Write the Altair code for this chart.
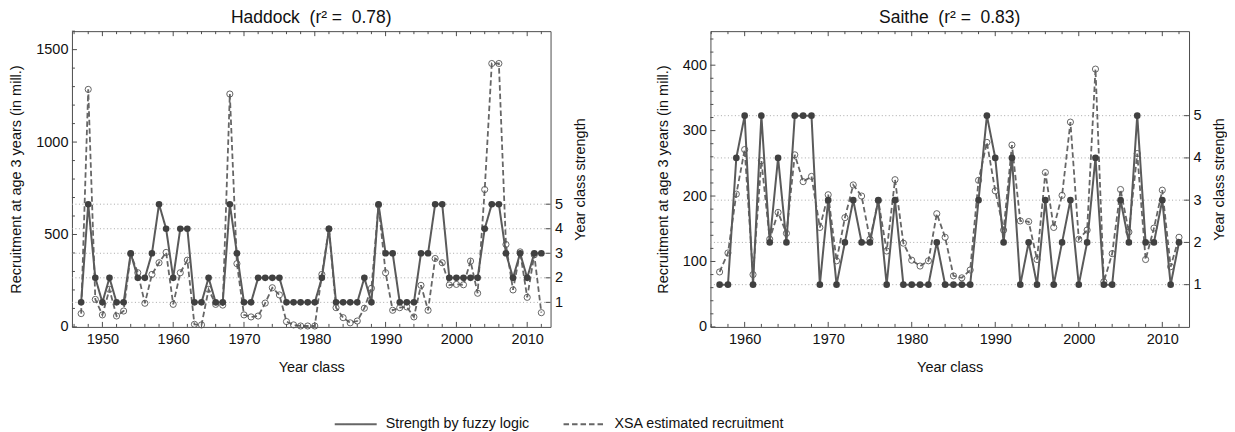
import altair as alt
import pandas as pd

FONT = "Liberation Sans"
AXIS_COLOR = "#4d4d4d"
S_NAME = "Strength by fuzzy logic"
X_NAME = "XSA estimated recruitment"

# ---------------- Haddock ----------------
had_years = list(range(1947, 2013))
had_strength = [1, 5, 2, 1, 2, 1, 1, 3, 2, 2,
                3, 5, 4, 2, 4, 4, 1, 1, 2, 1,
                1, 5, 3, 1, 1, 2, 2, 2, 2, 1,
                1, 1, 1, 1, 2, 4,
                1, 1, 1, 1, 2, 1, 5, 3, 3, 1,
                1, 1, 3, 3, 5, 5, 2, 2, 2, 2,
                2, 4, 5, 5, 3, 2, 3, 2, 3, 3]
had_xsa = [72, 1285, 149, 65, 203, 59, 86, 395, 293, 128,
           284, 347, 403, 122, 293, 361, 14, 11, 203, 122,
           118, 1260, 342, 65, 54, 59, 129, 212, 173, 29,
           11, 5, 5, 5, 284, 530,
           104, 50, 22, 32, 101, 209, 660, 293, 90, 104,
           108, 54, 225, 90, 370, 347, 227, 230, 228, 356,
           182, 743, 1425, 1425, 446, 200, 406, 160, 390, 77]

# ---------------- Saithe ----------------
sai_years = list(range(1957, 2013))
sai_strength = [1, 1, 4, 5, 1, 5, 2, 4, 2, 5, 5, 5, 1, 3, 1, 2, 3, 2, 2, 3,
                1, 3, 1, 1, 1, 1, 2, 1, 1, 1, 1, 3, 5, 4, 2, 4, 1, 2, 1, 3,
                1, 2, 3, 1, 2, 4, 1, 1, 3, 2, 5, 2, 2, 3, 1, 2]
sai_xsa = [84, 113, 203, 271, 80, 254, 134, 175, 143, 263, 222, 230, 152, 202, 101, 167,
           217, 200, 134, 193, 116, 225, 128, 102, 93, 101, 173, 137, 78, 75, 87, 224,
           282, 208, 148, 278, 162, 161, 103, 236, 152, 201, 313, 134, 148, 394,
           69, 112, 210, 145, 265, 103, 151, 209, 92, 137]

W, H = 479, 296
dash_scale = alt.Scale(domain=[S_NAME, X_NAME], range=[[1, 0], [5.5, 3]])
NB = "\u00a0"


def panel(title, years, strength, xsa, xdom, ymax, smax, yvals, ystep, ymajor, tick0):
    xs = alt.Scale(domain=xdom, nice=False, zero=False)
    ls = alt.Scale(domain=[0, ymax], nice=False, zero=False)
    rs = alt.Scale(domain=[0, smax], nice=False, zero=False)
    factor = ymax / smax

    xaxis = alt.Axis(values=list(range(1950, 2011, 10)), format="d", ticks=False, domain=False, grid=False,
                     labelPadding=6, title="Year class", titlePadding=14)
    laxis = alt.Axis(values=yvals, format="d", ticks=False, domain=False, grid=False,
                     labelPadding=4, title="Recruitment at age 3 years (in mill.)", titlePadding=12)
    raxis = alt.Axis(orient="right", values=[1, 2, 3, 4, 5], format="d", ticks=False, domain=False,
                     grid=False, labelPadding=4, title="Year class strength", titleAngle=270,
                     titleBaseline="top", titlePadding=11)

    df_x = pd.DataFrame({"year": years, "value": xsa, "series": X_NAME})
    df_s = pd.DataFrame({"year": years, "value": strength, "series": S_NAME})
    grid = pd.DataFrame({"s": [1, 2, 3, 4, 5]})
    xt = pd.DataFrame({"year": list(range(tick0, 2013, 2))})
    xt["major"] = xt["year"] % 10 == 0
    ytk = pd.DataFrame({"value": list(range(0, int(ymax) + 1, ystep))})
    ytk["major"] = ytk["value"] % ymajor == 0

    X = alt.X("year:Q", scale=xs, axis=xaxis)
    YL = alt.Y("value:Q", scale=ls, axis=laxis)
    YR = alt.Y("value:Q", scale=rs, axis=raxis)

    grid_layer = alt.Chart(grid).mark_rule(color="#a8a8a8", strokeDash=[1, 2.5], strokeWidth=1).transform_calculate(
        value=f"datum.s * {factor}"
    ).encode(y=YL, x=alt.value(0), x2=alt.value(W))

    def xticks(major, top):
        ln = 5 if major else 3
        base = alt.Chart(xt).transform_filter(f"datum.major == {str(major).lower()}").mark_rule(
            color=AXIS_COLOR, strokeWidth=1)
        if top:
            return base.encode(x=X, y=alt.value(0), y2=alt.value(ln))
        return base.encode(x=X, y=alt.value(H), y2=alt.value(H - ln))

    def yticks(major):
        ln = 5 if major else 3
        return alt.Chart(ytk).transform_filter(f"datum.major == {str(major).lower()}").mark_rule(
            color=AXIS_COLOR, strokeWidth=1).encode(y=YL, x=alt.value(0), x2=alt.value(ln))

    xsa_line = alt.Chart(df_x).mark_line(color="#666666", strokeWidth=1.8).encode(
        x=X, y=YL,
        strokeDash=alt.StrokeDash("series:N", scale=dash_scale, legend=alt.Legend(title=None)),
    )
    xsa_pts = alt.Chart(df_x).mark_point(shape="circle", filled=False, color="#555555", size=38,
                                         strokeWidth=0.9, opacity=1).encode(x=X, y=YL)

    left = alt.layer(grid_layer, xticks(True, False), xticks(False, False), xticks(True, True),
                     xticks(False, True), yticks(True), yticks(False), xsa_line, xsa_pts)

    s_line = alt.Chart(df_s).mark_line(color="#5a5a5a", strokeWidth=2).encode(
        x=X, y=YR,
        strokeDash=alt.StrokeDash("series:N", scale=dash_scale, legend=alt.Legend(title=None)),
    )
    s_pts = alt.Chart(df_s).mark_circle(color="#404040", size=44, opacity=1).encode(x=X, y=YR)
    rt = alt.Chart(grid).transform_calculate(value="datum.s").mark_rule(
        color=AXIS_COLOR, strokeWidth=1).encode(y=YR, x=alt.value(W), x2=alt.value(W - 5))
    right = alt.layer(s_line, s_pts, rt)

    return alt.layer(left, right).resolve_scale(y="independent").properties(
        width=W, height=H, title=alt.TitleParams(title))


p1 = panel(f"Haddock{NB} (r² ={NB} 0.78)", had_years, had_strength, had_xsa, [1945.7, 2013.3],
           1600, 12.05, [0, 500, 1000, 1500], 100, 500, 1946)
p2 = panel(f"Saithe{NB} (r² ={NB} 0.83)", sai_years, sai_strength, sai_xsa, [1955.9, 2013.2],
           452, 7.0, [0, 100, 200, 300, 400], 20, 100, 1956)

chart = alt.hconcat(p1, p2, spacing=66).properties(
    padding={"left": 0, "top": 0, "right": 0, "bottom": 0}
).configure_view(stroke=AXIS_COLOR, strokeWidth=1).configure_axis(
    labelFont=FONT, titleFont=FONT, labelFontSize=14.5, titleFontSize=14.5,
    labelColor="#111111", titleColor="#111111", titleFontWeight="normal"
).configure_title(
    font=FONT, fontSize=17.5, fontWeight="normal", anchor="middle", offset=4, color="#111111"
).configure_legend(
    orient="none", legendX=262, legendY=371, direction="horizontal", symbolType="stroke",
    symbolSize=1764, symbolStrokeWidth=2, symbolStrokeColor="#666666", labelFont=FONT,
    labelFontSize=14.3, labelColor="#111111", columnPadding=30, labelOffset=8, labelLimit=0
)

chart.save("out.html", embed_options={"renderer": "svg", "actions": False})
